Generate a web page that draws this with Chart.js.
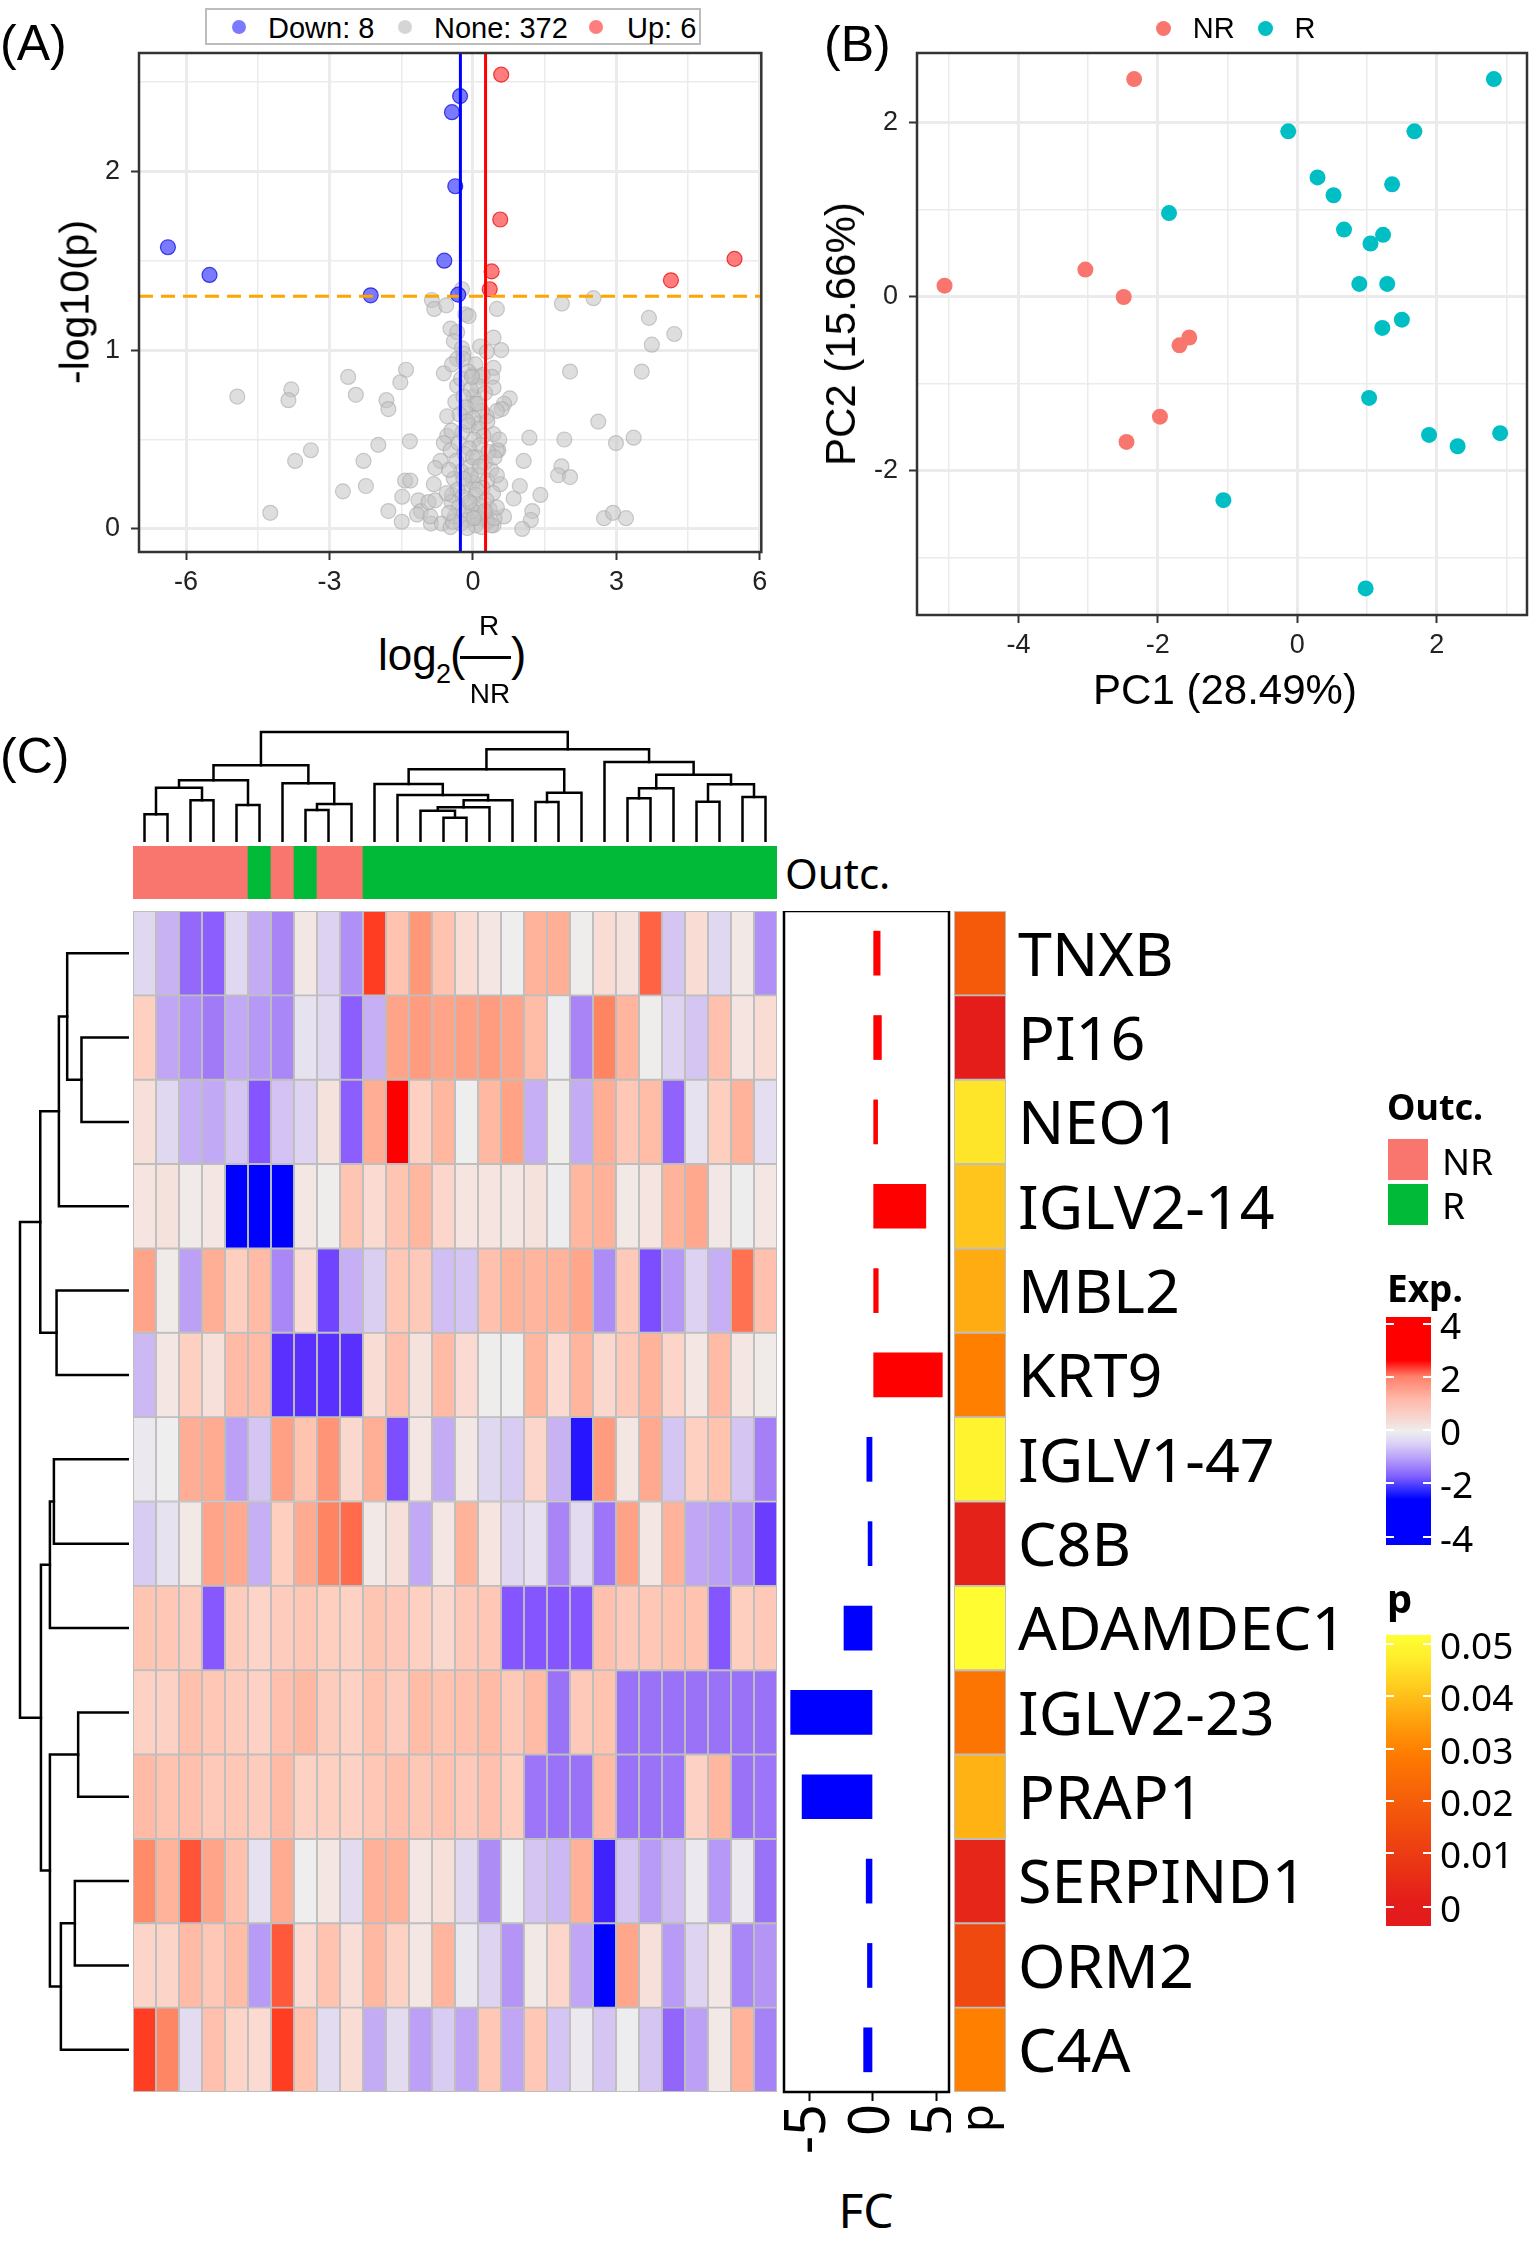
<!DOCTYPE html>
<html>
<head>
<meta charset="utf-8">
<script src="https://cdn.jsdelivr.net/npm/chart.js@4.4.1/dist/chart.umd.min.js"></script>
<style>
  body { margin: 0; background: #fff; }
  #page { position: relative; width: 1535px; height: 2248px; overflow: hidden; font-family: "Liberation Sans", Arial, sans-serif; color: #000; }
  .txt { position: absolute; white-space: nowrap; line-height: 1; }
  .blk { position: absolute; box-sizing: border-box; }
</style>
</head>
<body>
<div id="page"></div>
<script>
// ---------------- data ----------------
// (A) volcano: [log2FC, -log10(p)]
const volcanoDown = [[-6.38,1.575],[-5.51,1.42],[-2.14,1.306],[-0.60,1.50],[-0.31,1.31],[-0.37,1.916],[-0.44,2.33],[-0.27,2.42]];
const volcanoUp = [[0.59,2.54],[0.57,1.73],[0.39,1.44],[0.35,1.34],[4.14,1.39],[5.47,1.51]];
const volcanoNone = [
  [-4.93,0.74],[-3.80,0.78],[-3.86,0.72],[-2.61,0.85],[-2.45,0.75],[-1.40,0.89],[-1.52,0.82],[-1.81,0.72],[-1.77,0.67],
  [-3.39,0.44],[-3.72,0.38],[-2.29,0.38],[-1.98,0.47],[-1.32,0.49],[-2.72,0.21],[-2.24,0.24],[-4.24,0.09],[-1.42,0.27],
  [-1.31,0.27],[-1.77,0.10],[-1.48,0.18],[-1.49,0.04],[-1.14,0.16],[-1.09,0.10],[-0.88,0.03],[-0.82,0.25],
  [1.86,1.26],[2.52,1.29],[3.68,1.18],[4.21,1.09],[3.74,1.03],[3.53,0.88],[2.03,0.88],[2.62,0.60],[3.36,0.51],[2.99,0.48],
  [1.91,0.50],[1.18,0.51],[1.06,0.38],[1.85,0.35],[1.78,0.30],[2.03,0.29],[0.98,0.24],[1.41,0.19],[0.85,0.17],[1.24,0.10],
  [1.21,0.05],[1.03,0.0],[0.65,0.07],[2.74,0.06],[2.93,0.09],[3.20,0.06],[0.77,0.73],[0.65,0.70],[0.60,0.67],[0.53,0.44],
  [0.50,1.23],[0.59,1.00],[0.43,1.07],
  [-0.23,1.34],[-0.86,1.28],[-0.81,1.23],[-0.56,1.25],[-0.16,1.20],[-0.09,1.19],[-0.47,1.12],[-0.33,1.10],[-0.40,1.05],
  [-0.23,1.01],[0.15,1.02],[0.29,0.99],[-0.20,0.98],[-0.33,0.95],[-0.61,0.87],[-0.44,0.92],[0.43,0.90],[0.40,0.85],
  [-0.02,0.86],[0.15,0.85],[-0.33,0.80],[0.43,0.79],[0.50,0.66],[-0.37,0.71],[0.01,0.74],[-0.54,0.63],[-0.16,0.65],
  [0.29,0.63],[0.12,0.59],[0.43,0.53],[-0.54,0.52],[-0.61,0.48],[-0.47,0.44],[0.50,0.44],[-0.68,0.38],[-0.79,0.34],
  [0.57,0.25],[-0.93,0.15],[-0.79,0.16],[-0.44,0.19],[-1.17,0.08],[-0.89,0.07],[-0.65,0.03],[-0.47,0.01],[0.43,0.02],[0.29,0.05],
  [-0.20,0.95],[0.05,0.92],[-0.10,0.88],[0.20,0.86],[-0.25,0.84],[0.10,0.80],[-0.05,0.78],[0.25,0.76],[-0.20,0.74],[0.05,0.70],
  [-0.15,0.68],[0.18,0.66],[-0.28,0.64],[0.00,0.62],[0.30,0.60],[-0.10,0.58],[0.12,0.56],[-0.22,0.54],[0.22,0.52],[0.02,0.50],
  [-0.30,0.48],[0.15,0.47],[-0.08,0.45],[0.32,0.43],[-0.18,0.42],[0.08,0.40],[-0.35,0.38],[0.25,0.37],[-0.05,0.35],[0.38,0.33],
  [-0.25,0.32],[0.12,0.30],[-0.40,0.28],[0.30,0.27],[0.00,0.26],[-0.15,0.24],[0.20,0.23],[-0.32,0.22],[0.42,0.20],[0.05,0.19],
  [-0.22,0.18],[0.28,0.16],[-0.45,0.15],[-0.05,0.14],[0.15,0.13],[-0.30,0.12],[0.35,0.11],[0.00,0.10],[-0.18,0.09],[0.22,0.08],
  [-0.38,0.07],[0.10,0.06],[-0.10,0.05],[0.30,0.04],[-0.25,0.03],[0.05,0.02],[0.18,0.01],[-0.12,0.005],[0.38,0.02],[-0.42,0.04],
  [0.45,0.06],[-0.50,0.09],[0.50,0.12],[-0.55,0.20],[0.50,0.30],[-0.50,0.33],[0.45,0.40],[0.55,0.50],[-0.45,0.55],[-0.05,0.30],
  [0.08,0.22],[0.00,0.40],[-0.12,0.60],[0.10,0.70],[-0.02,0.85],[0.15,0.35],[-0.20,0.28],[0.25,0.10],[-0.08,0.15],[0.02,0.06]
];
const volcanoLegend = ['Down: 8', 'None: 372', 'Up: 6'];
const fcCutoff = 0.263;       // log2(1.2)
const pCutoff = 1.301;        // -log10(0.05)
const volcanoXTicks = [-6, -4.5, -3, -1.5, 0, 1.5, 3, 4.5, 6];
const volcanoXMajor = [-6, -3, 0, 3, 6];
const volcanoYTicks = [0, 0.5, 1, 1.5, 2, 2.5];
const volcanoYMajor = [0, 1, 2];

// (B) PCA: [PC1, PC2]
const pcaNR = [[-2.34,2.50],[-5.06,0.125],[-3.04,0.31],[-2.49,-0.005],[-1.55,-0.47],[-1.69,-0.56],[-1.97,-1.38],[-2.45,-1.67]];
const pcaR = [[2.82,2.50],[-0.13,1.90],[1.68,1.90],[0.29,1.37],[0.52,1.165],[1.36,1.29],[-1.84,0.96],[0.67,0.77],[1.23,0.71],
  [1.05,0.61],[0.89,0.146],[1.29,0.146],[1.50,-0.265],[1.22,-0.36],[1.03,-1.165],[1.89,-1.59],[2.30,-1.72],[2.91,-1.57],
  [-1.06,-2.34],[0.98,-3.355]];
const pcaGroups = ['NR', 'R'];
const pcaXTicks = [-5, -4, -3, -2, -1, 0, 1, 2, 3];
const pcaXMajor = [-4, -2, 0, 2];
const pcaYTicks = [-3, -2, -1, 0, 1, 2];
const pcaYMajor = [-2, 0, 2];

// (C) heatmap
const genes = ['TNXB','PI16','NEO1','IGLV2-14','MBL2','KRT9','IGLV1-47','C8B','ADAMDEC1','IGLV2-23','PRAP1','SERPIND1','ORM2','C4A'];
const sampleIds = ['S1','S2','S3','S4','S5','S6','S7','S8','S9','S10','S11','S12','S13','S14','S15','S16','S17','S18','S19','S20',
  'S21','S22','S23','S24','S25','S26','S27','S28'];
const outcome = ['NR','NR','NR','NR','NR','R','NR','R','NR','NR','R','R','R','R','R','R','R','R','R','R','R','R','R','R','R','R','R','R'];
const expValues = [
  [-0.5,-1.1,-2.4,-2.6,-0.5,-1.2,-1.9,0.2,-0.6,-1.7,3.6,1.1,2.2,1.1,0.5,0.25,0,1.5,1.6,0.05,0.5,0.35,3.1,-0.8,0.5,-0.5,0.15,-1.7],
  [0.8,-1.3,-1.7,-2.1,-1.25,-1.55,-1.85,-0.25,-0.45,-2.6,-1.15,1.9,2.1,1.9,2.0,2.1,1.9,1.25,-0.05,-1.9,2.6,1.45,0.05,-0.55,-0.8,1.15,0.3,0.5],
  [0.4,-0.5,-1.15,-1.25,-0.8,-2.75,-0.85,-0.55,0.35,-2.6,1.65,4,0.8,1.4,0,1.35,1.95,-1.15,0.05,-1.2,1.65,1.0,1.25,-2.5,-0.25,0.85,1.5,-0.35],
  [0.3,0.35,0.1,0.25,-4,-4,-4,0.25,0.05,1.05,0.55,1.05,1.4,0.65,0.3,0.3,0.25,0.35,-0.05,1.4,1.55,0.15,0.3,1.5,1.8,0.2,-0.02,0.25],
  [1.9,0.1,-1.4,1.6,0.85,1.3,-1.85,0.5,-3.0,-1.15,-0.65,1.0,0.95,-0.9,-0.8,1.15,1.5,1.45,1.5,1.85,-1.75,0.95,-2.85,-1.55,-0.6,-1.15,2.9,1.15],
  [-1.0,0.25,0.8,0.4,1.3,1.3,-3.3,-3.3,-3.3,-3.3,0.5,1.15,0.35,1.3,0.55,0.05,0,1.4,0.55,1.45,0.6,0.95,1.5,0.7,0.25,1.3,0.25,0.1],
  [-0.1,0,1.65,1.7,-1.4,-0.8,2.0,1.1,2.25,0.6,1.6,-2.85,0.25,-1.2,0.2,-0.5,-0.7,0.65,-1.1,-3.7,2.1,0.25,1.75,-0.8,0.8,1.1,-0.8,-2.0],
  [-0.7,-0.25,0.15,1.9,1.75,-1.15,0.85,1.7,2.6,3.0,0.15,0.4,-1.25,0.25,1.5,0.3,-0.5,-0.3,-1.9,-0.4,-2.2,1.95,0.25,1.5,-1.3,-1.4,-1.6,-3.1],
  [1.05,1.0,0.9,-2.7,0.9,0.7,0.9,1.0,0.85,0.75,1.05,0.95,0.8,0.6,0.95,1.0,-2.75,-2.75,-2.75,-2.75,1.15,0.95,1.0,1.1,1.1,-2.75,0.85,0.95],
  [0.75,0.75,1.15,1.0,0.9,0.75,1.15,1.35,0.9,0.75,1.1,0.9,1.25,1.1,1.15,1.3,0.95,1.3,-2.25,0.95,1.1,-2.25,-2.25,-2.25,-2.25,-2.25,-2.25,-2.25],
  [1.3,1.1,1.15,0.95,1.0,0.9,1.3,0.75,0.8,0.75,1.0,1.15,1.0,1.1,0.95,1.15,0.85,-2.2,-2.25,-2.25,1.3,-2.25,-2.25,-2.2,0.75,1.4,-2.25,-2.2],
  [2.45,1.5,3.3,1.9,1.15,-0.3,1.7,0,0.25,-0.4,1.55,1.5,0.25,0.4,-0.45,-1.75,0,-0.8,-1.0,1.55,-3.5,-0.8,-1.5,-0.95,-0.1,-1.55,-0.1,-2.25],
  [0.7,0.7,1.3,1.0,1.25,-1.5,3.25,0.55,1.1,0.45,1.35,0.75,0.25,1.45,-0.15,-0.55,-1.6,0.15,0.65,-1.3,-4,1.85,0.4,-1.5,-0.55,0.2,-1.85,-1.6],
  [3.6,2.55,-0.4,1.15,0.7,0.55,3.6,1.1,-0.4,0.5,-1.2,-0.4,-1.4,-0.7,-1.3,1.0,-1.3,1.0,-0.8,-0.1,-0.8,-0.05,-0.8,-2.45,-1.4,0.15,1.5,-1.95]
];
const fcValues = [0.6, 0.7, 0.4, 4.2, 0.45, 5.5, -0.5, -0.4, -2.3, -6.5, -5.6, -0.55, -0.45, -0.75];
const fcTicks = [-5, 0, 5];
const pValues = [0.019, 0.001, 0.046, 0.041, 0.037, 0.030, 0.048, 0.0025, 0.0495, 0.027, 0.038, 0.0035, 0.014, 0.030];
// dendrograms, hclust style: negative = leaf (1-based), positive = earlier merge row; third value = height
const colMerge = [
  [-1,-2,83],[-3,-4,125],[1,2,163],[-5,-6,111],[3,4,185],[-8,-9,96],[6,-10,114],[-7,7,176],[5,8,230],
  [-14,-15,73],[-13,10,94],[11,-16,104],[12,-17,125],[-12,13,141],[-11,14,174],[-18,-19,120],[16,-20,148],[15,17,218],
  [-22,-23,131],[19,-24,161],[-25,-26,121],[-27,-28,135],[21,22,173],[20,23,202],[-21,24,240],[18,25,278],[9,26,330]
];
const rowMerge = [
  [-2,-3,140],[-1,1,183],[2,-4,208],[-5,-6,215],[3,4,264],[-7,-8,223],[6,-9,235],
  [-10,-11,150],[-12,-13,160],[9,-14,202],[8,10,235],[7,11,262],[5,12,325]
];
const expLegendTicks = ['4', '2', '0', '-2', '-4'];
const pLegendTicks = ['0.05', '0.04', '0.03', '0.02', '0.01', '0'];

// ---------------- colours ----------------
const expStops = [[-4,'#0000FF'],[-3.3,'#5A30FF'],[-2.75,'#8555FF'],[-2.25,'#9A72F8'],[-1.75,'#AE8CF6'],[-1.2,'#C4ACF5'],
  [-0.6,'#DDD2F1'],[0,'#EEEEEE'],[0.3,'#F5E4E0'],[0.7,'#FDD4C8'],[1.1,'#FFC3B0'],[1.5,'#FFB39B'],[2.0,'#FFA084'],
  [2.6,'#FF8462'],[3.0,'#FF6B4B'],[3.6,'#FF3D22'],[4,'#FF0000']];
const pStops = [[0,'#E31A1C'],[0.03,'#FF7F00'],[0.05,'#FFFF33']];
const outcomeColor = { NR: '#F8766D', R: '#00BA38' };
const pcaColor = { NR: '#F8766D', R: '#00BFC4' };

function hexToRgb(h) { const n = parseInt(h.slice(1), 16); return [(n >> 16) & 255, (n >> 8) & 255, n & 255]; }
function ramp(stops, v) {
  if (v <= stops[0][0]) return stops[0][1];
  for (let i = 1; i < stops.length; i++) {
    if (v <= stops[i][0]) {
      const a = hexToRgb(stops[i - 1][1]), b = hexToRgb(stops[i][1]);
      const t = (v - stops[i - 1][0]) / (stops[i][0] - stops[i - 1][0]);
      return 'rgb(' + a.map((x, j) => Math.round(x + (b[j] - x) * t)).join(',') + ')';
    }
  }
  return stops[stops.length - 1][1];
}

// ---------------- page helpers ----------------
const page = document.getElementById('page');
function addText(str, x, y, size, o = {}) {
  const d = document.createElement('div');
  d.className = 'txt';
  d.textContent = str;
  d.style.left = x + 'px';
  d.style.top = y + 'px';
  d.style.fontSize = size + 'px';
  if (o.family) d.style.fontFamily = o.family;
  if (o.bold) d.style.fontWeight = 'bold';
  const tx = o.align === 'center' ? '-50%' : o.align === 'right' ? '-100%' : '0';
  d.style.transform = 'translate(' + tx + ',-50%)' + (o.rotate ? ' rotate(' + o.rotate + 'deg)' : '');
  page.appendChild(d);
  return d;
}
function addBlock(x, y, w, h, css) {
  const d = document.createElement('div');
  d.className = 'blk';
  d.style.cssText += 'left:' + x + 'px;top:' + y + 'px;width:' + w + 'px;height:' + h + 'px;' + (css || '');
  page.appendChild(d);
  return d;
}
function makeCanvas(x, y, w, h) {
  const c = document.createElement('canvas');
  c.width = w; c.height = h;
  c.style.cssText = 'position:absolute;left:' + x + 'px;top:' + y + 'px;width:' + w + 'px;height:' + h + 'px';
  page.appendChild(c);
  return c;
}
const toXY = arr => arr.map(([x, y]) => ({ x, y }));
const quiet = { legend: { display: false }, tooltip: { enabled: false } };

// black/grey frame round the chart area
const framePlugin = {
  id: 'frame',
  afterDatasetsDraw(chart, args, opts) {
    const { left, top, right, bottom } = chart.chartArea;
    const c = chart.ctx;
    c.save();
    c.strokeStyle = opts.color || '#333';
    c.lineWidth = opts.width || 2.5;
    c.strokeRect(left, top, right - left, bottom - top);
    c.restore();
  }
};

// ggplot-like axis with major / minor grid
function ggAxis(min, max, allTicks, major, size, pad, horizontal) {
  const isMajor = c => c.tick && major.includes(c.tick.value);
  return {
    type: 'linear', min, max,
    afterBuildTicks: s => { s.ticks = allTicks.map(v => ({ value: v })); },
    afterFit: s => {
      if (horizontal) { s.height = size; s.paddingLeft = 0; s.paddingRight = 0; }
      else { s.width = size; s.paddingTop = 0; s.paddingBottom = 0; }
    },
    ticks: {
      autoSkip: false, maxRotation: 0, padding: pad, color: '#222',
      font: { family: 'Liberation Sans', size: 27 },
      callback: v => major.includes(v) ? String(v) : ''
    },
    grid: {
      color: '#EBEBEB',
      lineWidth: c => isMajor(c) ? 3 : 1.5,
      tickLength: 8, tickWidth: 2,
      tickColor: c => isMajor(c) ? '#333' : 'rgba(0,0,0,0)'
    },
    border: { display: false }
  };
}

// ---------------- (A) volcano ----------------
addText('(A)', 0, 43, 50);
const volYMin = -0.129, volYMax = 2.661, volXMin = -6.985, volXMax = 6.03;
new Chart(makeCanvas(0, 0, 770, 625), {
  type: 'scatter',
  data: {
    datasets: [
      { data: [{ x: -fcCutoff, y: volYMin }, { x: -fcCutoff, y: volYMax }], showLine: true, borderColor: '#0000FF', borderWidth: 3, pointRadius: 0 },
      { data: [{ x: fcCutoff, y: volYMin }, { x: fcCutoff, y: volYMax }], showLine: true, borderColor: '#FF0000', borderWidth: 3, pointRadius: 0 },
      { data: [{ x: volXMin, y: pCutoff }, { x: volXMax, y: pCutoff }], showLine: true, borderColor: '#FFA500', borderWidth: 3, borderDash: [14, 8], pointRadius: 0 },
      { label: 'Down', data: toXY(volcanoDown), pointRadius: 7.5, borderWidth: 1.2, backgroundColor: 'rgba(70,70,255,0.72)', borderColor: 'rgba(0,0,220,0.7)' },
      { label: 'Up', data: toXY(volcanoUp), pointRadius: 7.5, borderWidth: 1.2, backgroundColor: 'rgba(255,75,75,0.72)', borderColor: 'rgba(230,0,0,0.7)' },
      { label: 'None', data: toXY(volcanoNone), pointRadius: 7.5, borderWidth: 1.2, backgroundColor: 'rgba(195,195,195,0.55)', borderColor: 'rgba(170,170,170,0.6)' }
    ]
  },
  options: {
    responsive: false, animation: false, events: [],
    layout: { padding: { top: 53, right: 5, left: 0, bottom: 0 } },
    plugins: { ...quiet, frame: { color: '#333', width: 2.5 } },
    scales: {
      x: ggAxis(volXMin, volXMax, volcanoXTicks, volcanoXMajor, 73, 6, true),
      y: ggAxis(volYMin, volYMax, volcanoYTicks, volcanoYMajor, 139, 11, false)
    }
  },
  plugins: [framePlugin]
});
// legend
addBlock(205, 8, 496, 37, 'border:2.5px solid #BDBDBD;background:#fff;');
const volLegendX = [[239, 268], [404.5, 434], [596, 627]];
const volLegendFill = ['rgba(70,70,255,0.72)', 'rgba(195,195,195,0.7)', 'rgba(255,75,75,0.72)'];
volcanoLegend.forEach((t, i) => {
  addBlock(volLegendX[i][0] - 7, 20, 14, 14, 'border-radius:50%;background:' + volLegendFill[i] + ';');
  addText(t, volLegendX[i][1], 28, 29);
});
// axis titles
addText('-log10(p)', 75, 302, 41, { align: 'center', rotate: -90 });
addText('log', 378, 655, 44);
addText('2', 436, 674, 27);
addText('(', 450, 654, 46);
addText(')', 511, 654, 46);
addText('R', 489, 626, 28, { align: 'center' });
addBlock(460, 656, 51, 2.5, 'background:#000;');
addText('NR', 490, 694, 28, { align: 'center' });

// ---------------- (B) PCA ----------------
addText('(B)', 824, 44, 50);
new Chart(makeCanvas(810, 0, 725, 720), {
  type: 'scatter',
  data: {
    datasets: [
      { label: 'NR', data: toXY(pcaNR), pointRadius: 8, borderWidth: 0, backgroundColor: pcaColor.NR },
      { label: 'R', data: toXY(pcaR), pointRadius: 8, borderWidth: 0, backgroundColor: pcaColor.R }
    ]
  },
  options: {
    responsive: false, animation: false, events: [],
    layout: { padding: { top: 53, right: 2, left: 0, bottom: 0 } },
    plugins: { ...quiet, frame: { color: '#333', width: 2.5 } },
    scales: {
      x: ggAxis(-5.455, 3.295, pcaXTicks, pcaXMajor, 105, 6, true),
      y: ggAxis(-3.66, 2.80, pcaYTicks, pcaYMajor, 107, 11, false)
    }
  },
  plugins: [framePlugin]
});
const pcaLegendX = [[1163.7, 1192.8], [1265.4, 1294.5]];
pcaGroups.forEach((g, i) => {
  addBlock(pcaLegendX[i][0] - 7.5, 20.5, 15, 15, 'border-radius:50%;background:' + pcaColor[g] + ';');
  addText(g, pcaLegendX[i][1], 28, 29);
});
addText('PC2 (15.66%)', 841, 334, 42, { align: 'center', rotate: -90 });
addText('PC1 (28.49%)', 1225, 690, 42, { align: 'center' });

// ---------------- (C) heatmap ----------------
const HF = 'Noto Sans';
addText('(C)', 0, 756, 50);

function dendroSets(merges, horizontal) {
  const pos = [], hgt = [];
  const node = id => id < 0 ? [-id - 0.5, 0] : [pos[id - 1], hgt[id - 1]];
  return merges.map(([a, b, h], k) => {
    const [pa, ha] = node(a), [pb, hb] = node(b);
    pos[k] = (pa + pb) / 2; hgt[k] = h;
    const pts = [[pa, ha], [pa, h], [pb, h], [pb, hb]];
    return {
      data: pts.map(([p, v]) => horizontal ? { x: v, y: p } : { x: p, y: v }),
      showLine: true, borderColor: '#000', borderWidth: 2.5, pointRadius: 0, clip: false,
      borderCapStyle: 'square', borderJoinStyle: 'miter'
    };
  });
}
const colHeightMax = colMerge[colMerge.length - 1][2];
const rowHeightMax = rowMerge[rowMerge.length - 1][2];

// column dendrogram
new Chart(makeCanvas(133, 727, 644, 115), {
  type: 'scatter',
  data: { datasets: dendroSets(colMerge, false) },
  options: {
    responsive: false, animation: false, events: [], plugins: quiet,
    layout: { padding: { top: 5, bottom: 0, left: 0, right: 0 } },
    scales: {
      x: { type: 'linear', display: false, min: 0, max: sampleIds.length },
      y: { type: 'linear', display: false, min: 0, max: colHeightMax }
    }
  }
});

// row dendrogram
new Chart(makeCanvas(16, 911, 113, 1181), {
  type: 'scatter',
  data: { datasets: dendroSets(rowMerge, true) },
  options: {
    responsive: false, animation: false, events: [], plugins: quiet,
    layout: { padding: { top: 0, bottom: 0, left: 4, right: 1 } },
    scales: {
      x: { type: 'linear', display: false, min: 0, max: rowHeightMax, reverse: true },
      y: { type: 'linear', display: false, min: 0, max: genes.length, reverse: true }
    }
  }
});

// outcome annotation
new Chart(makeCanvas(133, 846, 644, 53), {
  type: 'bar',
  data: {
    labels: sampleIds,
    datasets: [{ data: sampleIds.map(() => [0, 1]), backgroundColor: outcome.map(o => outcomeColor[o]), borderWidth: 0, barPercentage: 1, categoryPercentage: 1 }]
  },
  options: {
    responsive: false, animation: false, events: [], plugins: quiet,
    scales: { x: { display: false }, y: { display: false, min: 0, max: 1 } }
  }
});
addText('Outc.', 785, 873, 42, { family: HF });

// heatmap body
new Chart(makeCanvas(133, 911, 644, 1181), {
  type: 'bar',
  data: {
    labels: sampleIds,
    datasets: genes.map((g, r) => ({
      label: g,
      data: sampleIds.map(() => [r, r + 1]),
      backgroundColor: expValues[r].map(v => ramp(expStops, v)),
      borderColor: '#BEBEBE', borderWidth: 1.3, borderSkipped: false,
      grouped: false, barPercentage: 1, categoryPercentage: 1
    }))
  },
  options: {
    responsive: false, animation: false, events: [], plugins: quiet,
    scales: { x: { display: false }, y: { display: false, min: 0, max: genes.length, reverse: true } }
  }
});

// FC bars
new Chart(makeCanvas(782, 911, 169, 1261), {
  type: 'bar',
  data: {
    labels: genes,
    datasets: [{ data: fcValues, backgroundColor: fcValues.map(v => v > 0 ? '#FF0000' : '#0000FF'), borderWidth: 0, barPercentage: 0.53, categoryPercentage: 1 }]
  },
  options: {
    indexAxis: 'y', responsive: false, animation: false, events: [],
    layout: { padding: { left: 2, right: 2, top: 0, bottom: 0 } },
    plugins: { ...quiet, frame: { color: '#000', width: 2.5 } },
    scales: {
      x: {
        type: 'linear', min: -7, max: 6,
        afterBuildTicks: s => { s.ticks = fcTicks.map(v => ({ value: v })); },
        afterFit: s => { s.height = 80; s.paddingLeft = 0; s.paddingRight = 0; },
        ticks: { autoSkip: false, minRotation: 90, maxRotation: 90, padding: 3, color: '#000', font: { family: HF, size: 56 } },
        grid: { drawOnChartArea: false, tickLength: 9, tickWidth: 2, tickColor: '#000' },
        border: { display: false }
      },
      y: { display: false }
    }
  },
  plugins: [framePlugin]
});
addText('FC', 866, 2210, 48, { family: HF, align: 'center' });

// p column with gene labels
new Chart(makeCanvas(954, 911, 440, 1261), {
  type: 'bar',
  data: {
    labels: genes,
    datasets: [{ data: genes.map(() => 1), backgroundColor: pValues.map(v => ramp(pStops, v)), borderColor: '#BEBEBE', borderWidth: 1.3, borderSkipped: false, barPercentage: 1, categoryPercentage: 1 }]
  },
  options: {
    indexAxis: 'y', responsive: false, animation: false, events: [], plugins: quiet,
    layout: { padding: 0 },
    scales: {
      x: {
        type: 'linear', min: 0, max: 1,
        afterBuildTicks: s => { s.ticks = [{ value: 0.5 }]; },
        afterFit: s => { s.height = 80; s.paddingLeft = 0; s.paddingRight = 0; },
        ticks: { autoSkip: false, minRotation: 90, maxRotation: 90, padding: 4, color: '#000', font: { family: HF, size: 46 }, callback: () => 'p' },
        grid: { display: false }, border: { display: false }
      },
      y: {
        position: 'right',
        afterFit: s => { s.width = 388; s.paddingTop = 0; s.paddingBottom = 0; },
        ticks: { autoSkip: false, padding: 4, labelOffset: 5, color: '#000', font: { family: HF, size: 61 } },
        grid: { display: false }, border: { display: false }
      }
    }
  }
});

// ---------------- legends ----------------
addText('Outc.', 1387, 1107, 36, { family: HF, bold: true });
addBlock(1388, 1139, 40, 41, 'background:' + outcomeColor.NR + ';');
addBlock(1388, 1184, 40, 41, 'background:' + outcomeColor.R + ';');
addText('NR', 1442, 1160, 37, { family: HF });
addText('R', 1442, 1204, 37, { family: HF });

addText('Exp.', 1387, 1287, 37, { family: HF, bold: true });
addBlock(1386, 1317, 45, 228, 'background:linear-gradient(to bottom,#FF0000 0%,#FF0000 19%,#FF7F6A 26%,#FFB8A8 36%,#F5DCD8 46%,#EEEEEE 50%,#DDD5F5 55%,#B8A0F8 62%,#8060FF 70%,#2020FF 77%,#0000FF 80%,#0000FF 100%);');
const expTickY = [1324, 1377, 1430, 1482.5, 1537];
expLegendTicks.forEach((t, i) => {
  addBlock(1386, expTickY[i] - 1, 8, 2, 'background:#fff;');
  addBlock(1423, expTickY[i] - 1, 8, 2, 'background:#fff;');
  addText(t, 1440, expTickY[i], 37, { family: HF });
});

addText('p', 1387, 1598, 40, { family: HF, bold: true });
const pBarTop = 1635, pBarH = 291, pTopVal = 0.0517, pBotVal = -0.0037;
const pGrad = [];
for (let i = 0; i <= 12; i++) {
  const v = pTopVal + (pBotVal - pTopVal) * i / 12;
  pGrad.push(ramp(pStops, v) + ' ' + (i / 12 * 100).toFixed(1) + '%');
}
addBlock(1386, pBarTop, 45, pBarH, 'background:linear-gradient(to bottom,' + pGrad.join(',') + ');');
const pTickY = [1644, 1696, 1748.5, 1801, 1853, 1906.5];
pLegendTicks.forEach((t, i) => {
  addBlock(1386, pTickY[i] - 1, 8, 2, 'background:#fff;');
  addBlock(1423, pTickY[i] - 1, 8, 2, 'background:#fff;');
  addText(t, 1440, pTickY[i], 37, { family: HF });
});
</script>
</body>
</html>
